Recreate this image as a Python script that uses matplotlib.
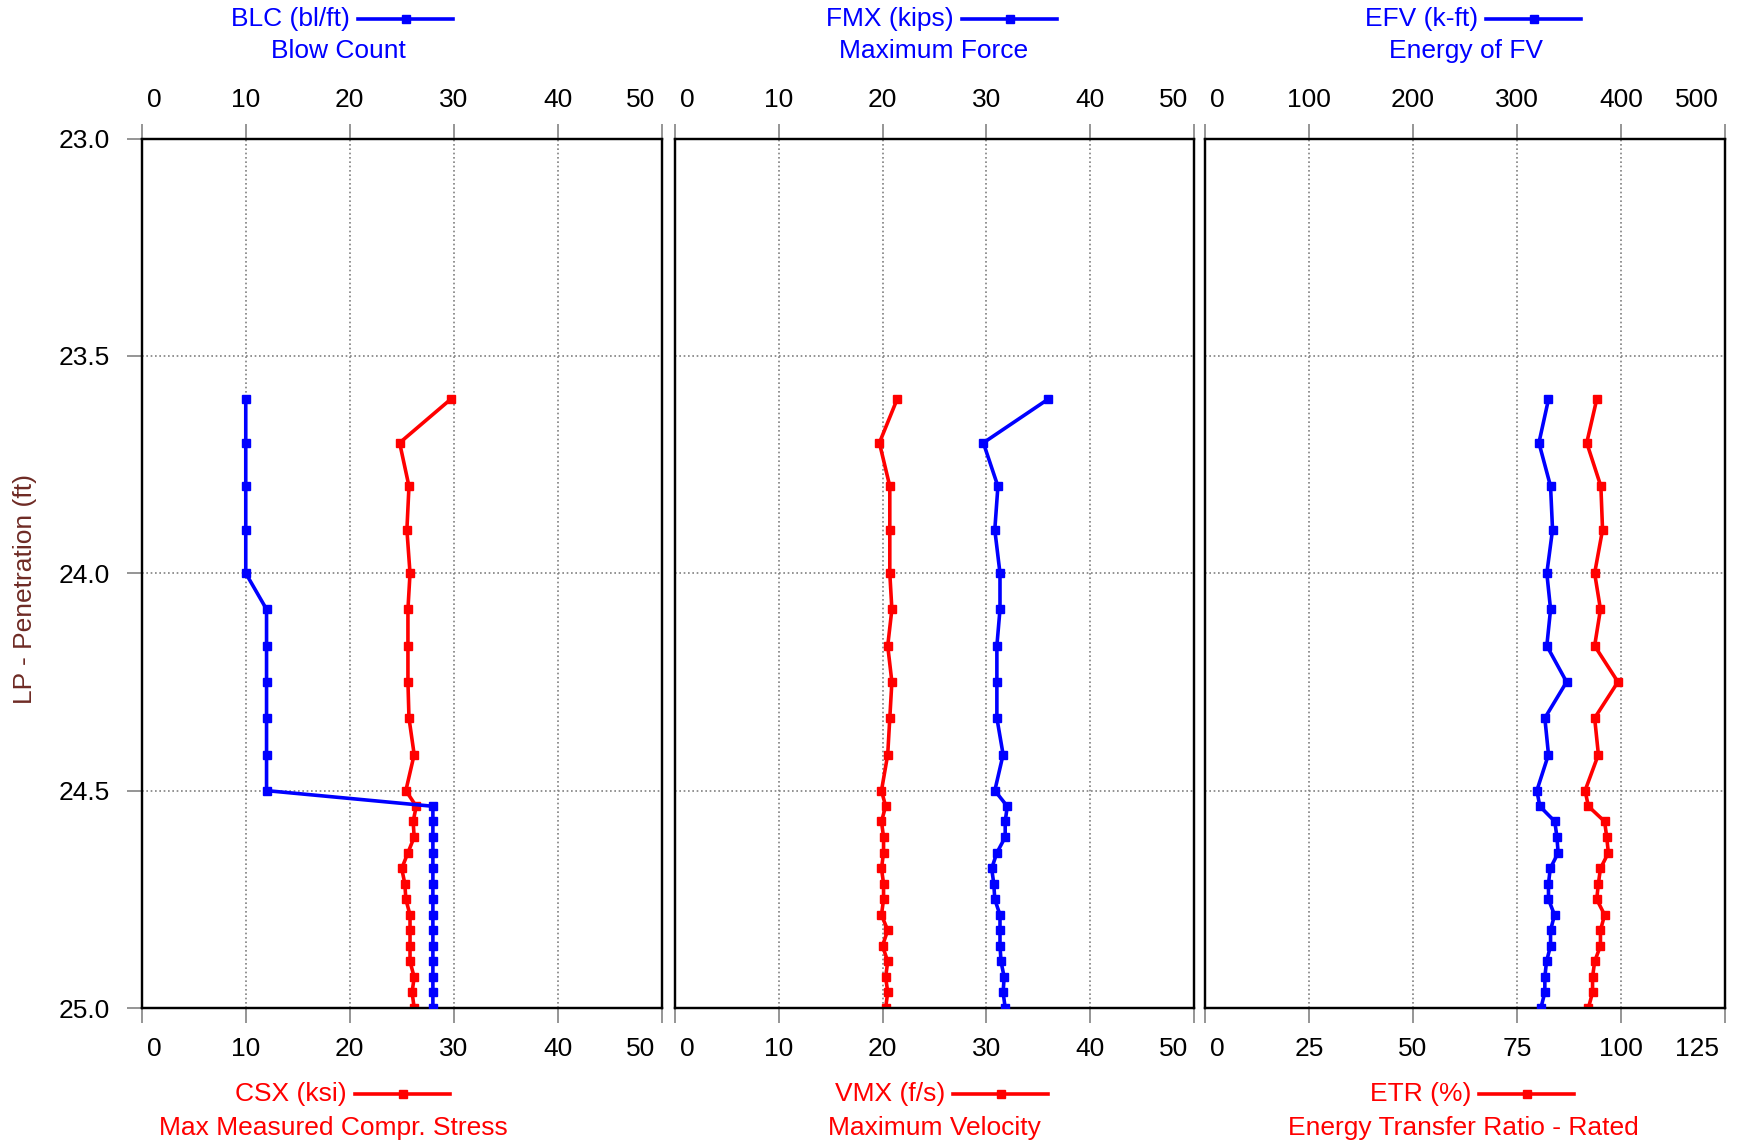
import matplotlib
matplotlib.use('Agg')
import matplotlib.pyplot as plt
from matplotlib.lines import Line2D
from matplotlib.transforms import ScaledTranslation

plt.rcParams['font.family'] = ['Liberation Sans', 'DejaVu Sans']

# penetration depth of each blow record (ft)
depth = [23.6, 23.7, 23.8, 23.9, 24.0,
         24.083, 24.167, 24.25, 24.333, 24.417, 24.5,
         24.536, 24.571, 24.607, 24.643, 24.679, 24.714, 24.75,
         24.786, 24.821, 24.857, 24.893, 24.929, 24.964, 25.0]

blc = [10, 10, 10, 10, 10,
       12, 12, 12, 12, 12, 12,
       28, 28, 28, 28, 28, 28, 28, 28, 28, 28, 28, 28, 28, 28]
csx = [29.7, 24.8, 25.7, 25.5, 25.8,
       25.6, 25.6, 25.6, 25.7, 26.2, 25.4,
       26.4, 26.1, 26.2, 25.6, 25.0, 25.3, 25.4,
       25.8, 25.8, 25.8, 25.8, 26.2, 26.0, 26.2]

fmx = [35.9, 29.7, 31.1, 30.8, 31.3,
       31.3, 31.0, 31.0, 31.0, 31.6, 30.8,
       32.0, 31.8, 31.8, 31.0, 30.5, 30.7, 30.8,
       31.3, 31.3, 31.3, 31.4, 31.7, 31.6, 31.8]
vmx = [21.4, 19.7, 20.7, 20.7, 20.7,
       20.9, 20.5, 20.9, 20.7, 20.5, 19.9,
       20.3, 19.9, 20.1, 20.1, 19.9, 20.1, 20.1,
       19.9, 20.5, 20.0, 20.5, 20.3, 20.5, 20.3]

efv = [330.4, 321.2, 332.4, 334.3, 328.8,
       332.4, 328.8, 347.8, 326.9, 330.4, 319.2,
       322.1, 336.5, 338.5, 339.7, 332.1, 330.4, 330.4,
       336.2, 332.4, 332.4, 328.5, 326.9, 326.9, 323.1]
etr = [94.2, 91.8, 95.2, 95.6, 93.7,
       95.1, 93.7, 99.3, 93.7, 94.6, 91.4,
       92.2, 96.1, 96.6, 97.0, 95.1, 94.6, 94.2,
       96.1, 95.1, 95.1, 93.7, 93.2, 93.2, 92.2]

top_names = ['BLC (bl/ft)', 'FMX (kips)', 'EFV (k-ft)']
top_desc = ['Blow Count', 'Maximum Force', 'Energy of FV']
bot_names = ['CSX (ksi)', 'VMX (f/s)', 'ETR (%)']
bot_desc = ['Max Measured Compr. Stress', 'Maximum Velocity',
            'Energy Transfer Ratio - Rated']

top_series = [blc, fmx, efv]
bot_series = [csx, vmx, etr]
top_ticks = [[0, 10, 20, 30, 40, 50], [0, 10, 20, 30, 40, 50],
             [0, 100, 200, 300, 400, 500]]
bot_ticks = [[0, 10, 20, 30, 40, 50], [0, 10, 20, 30, 40, 50],
             [0, 25, 50, 75, 100, 125]]
y_ticks = [23.0, 23.5, 24.0, 24.5, 25.0]

BLUE = '#0000ff'
RED = '#ff0000'
FS = 19
W, H = 1737, 1145


def px(x, y):
    return x / W, 1 - y / H


def style_xaxis(axis_ax, ticks, pad):
    axis_ax.set_xlim(ticks[0], ticks[-1])
    axis_ax.set_xticks(ticks)
    axis_ax.set_xticklabels([str(t) for t in ticks])
    axis_ax.tick_params(axis='x', which='both', direction='out', length=11,
                        width=1.3, color='#8c8c8c', pad=pad, labelsize=FS)


def shift_end_labels(axis_ax):
    # end labels sit a little inside the frame, like the original software
    fig = axis_ax.figure
    labels = axis_ax.get_xticklabels()
    labels[0].set_ha('left')
    labels[0].set_transform(labels[0].get_transform() +
                            ScaledTranslation(0.05, 0, fig.dpi_scale_trans))
    labels[-1].set_ha('right')
    labels[-1].set_transform(labels[-1].get_transform() +
                             ScaledTranslation(-0.06, 0, fig.dpi_scale_trans))


def draw_panel(ax, top_vals, bot_vals, tticks, bticks, first):
    ax_top = ax.twiny()
    ax.set_ylim(25.0, 23.0)
    ax.set_yticks(y_ticks)
    ax.set_yticklabels(['%.1f' % v for v in y_ticks])
    if first:
        ax.tick_params(axis='y', direction='out', length=11, width=1.3,
                       color='#8c8c8c', pad=12, labelsize=FS)
    else:
        ax.tick_params(axis='y', length=0, labelleft=False)
    style_xaxis(ax, bticks, 10)
    style_xaxis(ax_top, tticks, 8)
    ax.grid(True, color='#808080', linestyle=(0, (1, 1.6)), linewidth=1.2)
    for a in (ax, ax_top):
        for s in a.spines.values():
            s.set_linewidth(1.6)
            s.set_color('black')
    ax.plot(bot_vals, depth, color=RED, lw=2.6, marker='s', ms=5.5, zorder=3)
    ax_top.plot(top_vals, depth, color=BLUE, lw=2.6, marker='s', ms=5.5, zorder=3)
    ax_top.set_ylim(25.0, 23.0)
    shift_end_labels(ax)
    shift_end_labels(ax_top)


def legend_entry(fig, name, line_x0, y1, color):
    fx, fy = px(line_x0 - 8, y1)
    fig.text(fx, fy, name, color=color, fontsize=FS, ha='right', va='center')
    x0, yy = px(line_x0, y1)
    x1, _ = px(line_x0 + 95, y1)
    fig.add_artist(Line2D([x0, x1], [yy, yy], color=color, lw=2.6,
                          transform=fig.transFigure))
    fig.add_artist(Line2D([(x0 + x1) / 2], [yy], color=color, marker='s',
                          ms=5.5, transform=fig.transFigure))


def main():
    fig = plt.figure(figsize=(W / 100, H / 100), dpi=100)
    lefts = [141.8, 674.6, 1205.0]
    width = 519.8
    top_px, bot_px = 138.5, 1008.0
    for i, lx in enumerate(lefts):
        ax = fig.add_axes([lx / W, 1 - bot_px / H, width / W, (bot_px - top_px) / H])
        draw_panel(ax, top_series[i], bot_series[i], top_ticks[i], bot_ticks[i], i == 0)

    top_line_x = [358, 962, 1486]
    top_centers = [338, 934, 1466]
    bot_line_x = [355, 953, 1479]
    bot_centers = [333, 934, 1463]
    for i in range(3):
        legend_entry(fig, top_names[i], top_line_x[i], 19, BLUE)
        cx, cy = px(top_centers[i], 51)
        fig.text(cx, cy, top_desc[i], color=BLUE, fontsize=FS, ha='center', va='center')
        legend_entry(fig, bot_names[i], bot_line_x[i], 1094, RED)
        cx, cy = px(bot_centers[i], 1128)
        fig.text(cx, cy, bot_desc[i], color=RED, fontsize=FS, ha='center', va='center')

    lx, ly = px(25, 589)
    fig.text(lx, ly, 'LP - Penetration (ft)', rotation=90, color='#6e2a24',
             fontsize=FS, ha='center', va='center')

    fig.savefig('out.png', dpi=100)


if __name__ == '__main__':
    main()
